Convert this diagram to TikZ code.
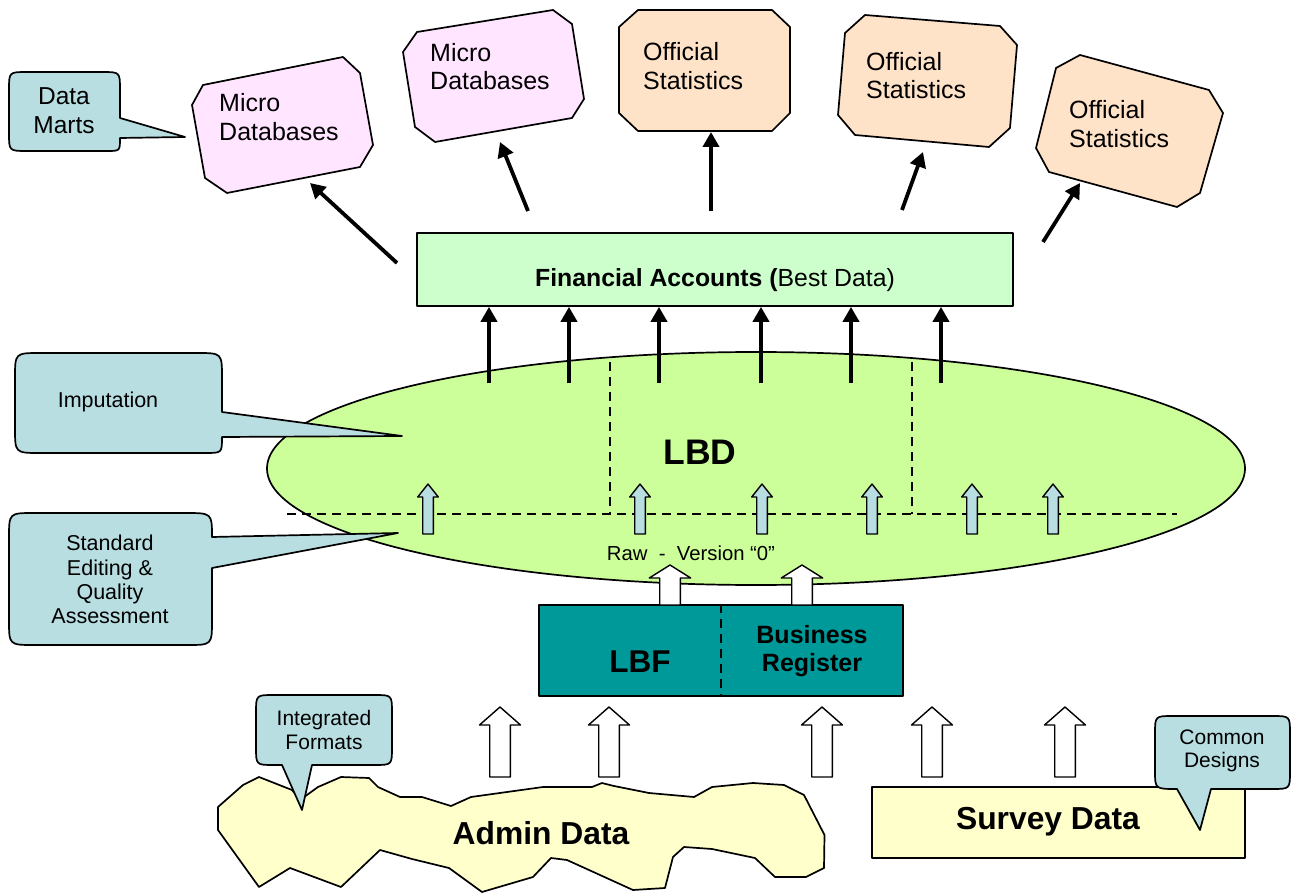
\documentclass[tikz,border=0pt]{standalone}
\usepackage{fontspec}
\setmainfont{Liberation Sans}
\usetikzlibrary{arrows.meta,shapes.geometric}

\definecolor{pinkfill}{HTML}{FFE5FF}
\definecolor{peachfill}{HTML}{FFE3C9}
\definecolor{callblue}{HTML}{B8DEE2}
\definecolor{lbdgreen}{HTML}{CCFF99}
\definecolor{fagreen}{HTML}{CCFFCC}
\definecolor{lbfteal}{HTML}{009999}
\definecolor{paleyellow}{HTML}{FFFFCC}

% upward block arrow: x, tip y, head base y, bottom y, head half width, shaft half width, style
\newcommand\blockarrowup[7]{%
  \draw[#7] ({#1-#6},#4) -- ({#1-#6},#3) -- ({#1-#5},#3) -- (#1,#2)
    -- ({#1+#5},#3) -- ({#1+#6},#3) -- ({#1+#6},#4) -- cycle;}

\begin{document}
\begin{tikzpicture}[x=1pt,y=-1pt,line join=round,
  outl/.style={draw=black,line width=1.7pt},
  octpink/.style={outl,fill=pinkfill},
  octpeach/.style={outl,fill=peachfill},
  calloutshape/.style={outl,fill=callblue},
  octtext/.style={font=\fontsize{25}{28.5}\selectfont,align=left,anchor=west,inner sep=0pt},
  calltext/.style={font=\fontsize{21.5}{24.3}\selectfont,align=center,inner sep=0pt},
  fatarrow/.style={line width=3.8pt,-{Triangle[length=15pt,width=16pt]}},
  blockblue/.style={draw=black,line width=1.4pt,fill=callblue},
  blockwhite/.style={draw=black,line width=1.4pt,fill=white},
  divider/.style={draw=black,line width=1.4pt,dash pattern=on 9pt off 6pt},
]
\useasboundingbox (0,0) rectangle (1299,893);

% ---------- output boxes (chamfered, slightly tilted) ----------
\draw[octpink] (192,105) -- (203,85) -- (343,57) -- (360,73) -- (373,145)
  -- (360,167) -- (227,193) -- (205,178) -- cycle;
\node[octtext] (micro1) at (219,117) {Micro\\Databases};

\draw[octpink] (403,52) -- (417,32) -- (553,10) -- (572,24) -- (584,99)
  -- (572,118) -- (435,142) -- (415,127) -- cycle;
\node[octtext] (micro2) at (430,66.5) {Micro\\Databases};

\draw[octpeach] (619,27) -- (638,10) -- (772,10) -- (790,27) -- (790,113)
  -- (772,131) -- (638,131) -- (619,113) -- cycle;
\node[octtext] (stat1) at (643,66) {Official\\Statistics};

\draw[octpeach] (845,33) -- (865,15) -- (1000,26) -- (1017,45) -- (1010,128)
  -- (989,147) -- (855,135) -- (838,115) -- cycle;
\node[octtext] (stat2) at (866,75.5) {Official\\Statistics};

\draw[octpeach] (1056,68) -- (1080,55) -- (1209,90) -- (1223,113) -- (1200,193)
  -- (1177,207) -- (1049,172) -- (1036,148) -- cycle;
\node[octtext] (stat3) at (1069,124) {Official\\Statistics};

% ---------- Data Marts callout ----------
\draw[calloutshape] (27,72) -- (102,72) .. controls (120,72) .. (120,90)
  -- (120,118) -- (185,137) -- (120,138) .. controls (120,151) .. (107,151)
  -- (27,151) .. controls (9,151) .. (9,133) -- (9,90) .. controls (9,72) .. (27,72) -- cycle;
\node[calltext,font=\fontsize{24.5}{29}\selectfont] (marts) at (64,110.5) {Data\\Marts};

% ---------- Financial Accounts ----------
\node[outl,fill=fagreen,minimum width=596pt,minimum height=73pt,inner sep=0pt] (fa) at (715,269.5) {};
\node[font=\fontsize{24.8}{28}\selectfont,inner sep=0pt] (fatext) at (715,280)
  {\textbf{Financial Accounts (}Best Data)};

% arrows from Financial Accounts to the output boxes
\coordinate (o1s) at (397,263); \coordinate (o1e) at (310,183);
\coordinate (o2s) at (528,211); \coordinate (o2e) at (500,142);
\coordinate (o3s) at (711,211); \coordinate (o3e) at (711,132);
\coordinate (o4s) at (902,210); \coordinate (o4e) at (923,152);
\coordinate (o5s) at (1043,242); \coordinate (o5e) at (1080,183);
\foreach \i in {1,...,5} {\draw[fatarrow] (o\i s) -- (o\i e);}

% ---------- LBD ellipse ----------
\node[ellipse,outl,fill=lbdgreen,minimum width=978pt,minimum height=233pt,inner sep=0pt] (lbd) at (756,468.5) {};
\draw[divider] (287,514) -- (1177,514);
\draw[divider] (610,362) -- (610,514);
\draw[divider] (912,362) -- (912,514);
\node[font=\fontsize{35.5}{40}\selectfont\bfseries,inner sep=0pt] (lbdtext) at (700,452) {LBD};
\node[font=\fontsize{20.3}{24}\selectfont,inner sep=0pt] (raw) at (691,553) {Raw\ \ -\ \ Version “0”};

\foreach \x in {428,640,762,872,972,1053} {
  \blockarrowup{\x}{484}{497}{534}{10.3}{5.3}{blockblue}
}

\foreach \x [count=\i] in {489,569,659,761,851,941} {
  \coordinate (up\i) at (\x,383);
  \draw[fatarrow] (up\i) -- (up\i |- fa.south);
}

% ---------- side callouts ----------
\draw[calloutshape] (40,353) -- (197,353) .. controls (222,353) .. (222,378)
  -- (222,412) -- (402,436) -- (222,437) .. controls (222,453) .. (205,453)
  -- (40,453) .. controls (15,453) .. (15,428) -- (15,378) .. controls (15,353) .. (40,353) -- cycle;
\node[calltext] (imput) at (108,402) {Imputation};

\draw[calloutshape] (185,513) .. controls (212,513) .. (212,537) -- (398,533)
  -- (212,568) -- (212,620) .. controls (212,645) .. (187,645) -- (34,645)
  .. controls (9,645) .. (9,620) -- (9,538) .. controls (9,513) .. (34,513) -- cycle;
\node[calltext] (editing) at (110,579.5) {Standard\\Editing \&\\Quality\\Assessment};

% ---------- LBF / Business Register ----------
\node[outl,fill=lbfteal,minimum width=364pt,minimum height=91pt,inner sep=0pt] (lbf) at (721,650.5) {};
\draw[divider] (lbf.north) -- (lbf.south);
\node[font=\fontsize{31.5}{36}\selectfont\bfseries,inner sep=0pt] (lbftext) at (640,662) {LBF};
\node[font=\fontsize{25}{28.5}\selectfont\bfseries,align=center,inner sep=0pt] (breg) at (812,651) {Business\\Register};

\blockarrowup{670}{565}{578}{605}{20.7}{10.3}{blockwhite}
\blockarrowup{802}{565}{578}{605}{20.7}{10.3}{blockwhite}

% ---------- sources ----------
\foreach \x in {500,609,822,932,1065} {
  \blockarrowup{\x}{707}{725}{777}{20.5}{10.3}{blockwhite}
}

\draw[outl,fill=paleyellow] (218,807) -- (243,785) -- (259,777) -- (292,790) -- (300,800)
  -- (318,787) -- (341,777) -- (369,778) -- (378,787) -- (400,797) -- (422,797)
  -- (451,806) -- (471,797) -- (543,787) -- (592,787) -- (602,783) -- (614,786)
  -- (649,793) -- (694,797) -- (712,787) -- (753,783) -- (784,785) -- (804,795)
  -- (824.5,835) -- (824,868) -- (806,877) -- (775,877) -- (755,858) -- (712,849)
  -- (684,847) -- (673,857) -- (665,888) -- (633,890) -- (567,860) -- (551,858)
  -- (533,877) -- (482,892) -- (449,868) -- (412,859) -- (380,850) -- (341,887)
  -- (290,868) -- (259,887) -- (218,830) -- cycle;
\node[font=\fontsize{31.8}{36}\selectfont\bfseries,inner sep=0pt] (admin) at (541,833) {Admin Data};

\draw[calloutshape] (274,695) -- (374,695) .. controls (392,695) .. (392,713)
  -- (392,747) .. controls (392,765) .. (374,765) -- (312,765) -- (302,810)
  -- (282,765) -- (274,765) .. controls (256,765) .. (256,747) -- (256,713)
  .. controls (256,695) .. (274,695) -- cycle;
\node[calltext,font=\fontsize{21}{23.5}\selectfont] (integ) at (324,730) {Integrated\\Formats};

\node[outl,fill=paleyellow,minimum width=373pt,minimum height=71pt,inner sep=0pt] (survey) at (1058.5,822.5) {};
\node[font=\fontsize{31.8}{36}\selectfont\bfseries,inner sep=0pt] (surveytext) at (1048,822) {Survey Data};

\draw[calloutshape] (1173,716) -- (1272,716) .. controls (1290,716) .. (1290,734)
  -- (1290,771) .. controls (1290,789) .. (1272,789) -- (1211,789) -- (1200,830)
  -- (1177,789) .. controls (1155,789) .. (1155,771) -- (1155,734)
  .. controls (1155,716) .. (1173,716) -- cycle;
\node[calltext,font=\fontsize{21}{23.5}\selectfont] (common) at (1222,751) {Common\\Designs};

\end{tikzpicture}
\end{document}
